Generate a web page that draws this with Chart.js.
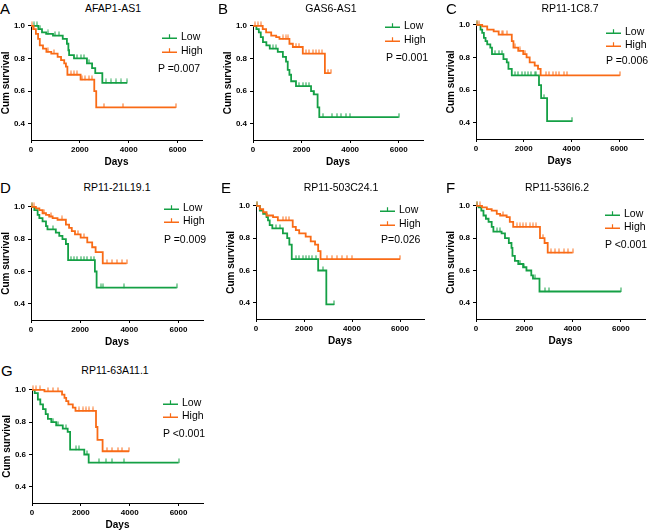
<!DOCTYPE html>
<html>
<head>
<meta charset="utf-8">
<script src="https://cdn.jsdelivr.net/npm/chart.js@4.4.1/dist/chart.umd.min.js"></script>
<style>
  body { margin: 0; background: #fff; font-family: Arial, "Liberation Sans", sans-serif; }
  #wrap { position: relative; width: 650px; height: 531px; overflow: hidden; }
  canvas { position: absolute; }
  .lbl { position: absolute; white-space: nowrap; color: #000; line-height: 1; }
  .letter { font-size: 15px; transform: translateY(-50%); }
  .title { font-size: 10.5px; transform: translate(-50%, -50%); }
  .leg { font-size: 10.5px; transform: translateY(-50%); display: flex; align-items: center; }
  .leg svg { margin-right: 4px; }
  .pv { font-size: 10.5px; transform: translateY(-50%); }
</style>
</head>
<body>
<div id="wrap"></div>
<script>
const letters = ["A", "B", "C", "D", "E", "F", "G"];
const titles = ["AFAP1-AS1", "GAS6-AS1", "RP11-1C8.7", "RP11-21L19.1", "RP11-503C24.1", "RP11-536I6.2", "RP11-63A11.1"];
const pTexts = ["P =0.007", "P =0.001", "P =0.006", "P =0.009", "P=0.026", "P <0.001", "P <0.001"];
const seriesNames = ["Low", "High"];
const xTicks = [0, 2000, 4000, 6000];
const yTicks = [0.4, 0.6, 0.8, 1.0];

// event times (days) / survival after the drop / censor times
const aLowT = [0, 300, 450, 620, 900, 1300, 1470, 1530, 1560, 1760, 2290, 2500, 2630, 2920];
const aLowS = [1.0, 0.98, 0.96, 0.95, 0.94, 0.92, 0.89, 0.85, 0.82, 0.80, 0.77, 0.74, 0.71, 0.65];
const aLowC = [120, 250, 380, 700, 1000, 1150, 1890, 2030, 2160, 2360, 3090, 3290, 3490, 3690, 3930];
const aHighT = [0, 90, 200, 290, 360, 490, 630, 830, 1090, 1230, 1360, 1430, 1490, 2030, 2590, 2670];
const aHighS = [1.0, 0.98, 0.95, 0.92, 0.88, 0.86, 0.84, 0.83, 0.81, 0.79, 0.77, 0.75, 0.70, 0.67, 0.60, 0.50];
const aHighC = [40, 130, 700, 950, 1630, 1760, 1890, 2090, 2230, 2360, 2490, 3000, 3760, 5930];

const bLowT = [0, 140, 240, 320, 410, 550, 690, 1020, 1230, 1360, 1430, 1500, 1570, 1770, 2390, 2500, 2660, 2730];
const bLowS = [1.0, 0.98, 0.96, 0.93, 0.90, 0.88, 0.86, 0.84, 0.81, 0.78, 0.73, 0.70, 0.66, 0.63, 0.60, 0.58, 0.50, 0.44];
const bLowC = [820, 955, 1910, 2050, 2180, 2320, 2520, 2900, 3270, 3450, 3640, 3820, 4000, 6000];
const bHighT = [0, 400, 540, 750, 955, 1090, 1500, 1640, 2050, 2960];
const bHighS = [1.0, 0.98, 0.96, 0.94, 0.93, 0.92, 0.89, 0.87, 0.83, 0.71];
const bHighC = [70, 200, 330, 1230, 1360, 1430, 1770, 1910, 2180, 2320, 2450, 2590, 2730, 2860, 3100, 3200];

const cLowT = [0, 190, 260, 330, 400, 470, 600, 670, 1150, 1290, 1360, 1500, 2640, 2730, 2980];
const cLowS = [1.0, 0.97, 0.95, 0.92, 0.90, 0.88, 0.86, 0.82, 0.79, 0.77, 0.73, 0.69, 0.63, 0.55, 0.41];
const cLowC = [60, 810, 950, 1090, 1630, 1770, 1910, 2050, 2180, 2320, 2460, 2530, 2870, 4040];
const cHighT = [0, 260, 470, 740, 950, 1500, 1570, 1770, 1980, 2120, 2250, 2460, 2600, 2710];
const cHighS = [1.0, 0.99, 0.97, 0.96, 0.94, 0.90, 0.86, 0.84, 0.82, 0.80, 0.77, 0.75, 0.73, 0.69];
const cHighC = [50, 130, 1090, 1150, 1290, 1630, 1850, 2050, 2940, 3080, 3210, 3350, 3490, 3700, 3830, 6030];

const dLowT = [0, 135, 270, 340, 470, 610, 670, 1010, 1150, 1280, 1420, 1510, 2600, 2670];
const dLowS = [1.0, 0.98, 0.95, 0.93, 0.91, 0.88, 0.86, 0.84, 0.82, 0.80, 0.77, 0.67, 0.60, 0.50];
const dLowC = [60, 880, 1620, 1750, 1890, 2020, 2160, 2290, 2430, 2560, 2830, 2940, 3770, 5930];
const dHighT = [0, 200, 340, 470, 610, 740, 880, 1080, 1420, 1550, 1660, 1790, 2020, 2290, 2490, 2630, 2920];
const dHighS = [1.0, 0.99, 0.98, 0.96, 0.95, 0.94, 0.93, 0.92, 0.89, 0.87, 0.85, 0.83, 0.81, 0.78, 0.75, 0.72, 0.65];
const dHighC = [40, 120, 540, 800, 1250, 1900, 2150, 3100, 3300, 3500, 3700, 3890];

const eLowT = [0, 160, 300, 440, 500, 570, 680, 1120, 1300, 1390, 1490, 2590, 2930];
const eLowS = [1.0, 0.97, 0.95, 0.93, 0.91, 0.88, 0.86, 0.83, 0.80, 0.76, 0.67, 0.60, 0.39];
const eLowC = [60, 850, 980, 1660, 1800, 1940, 2070, 2210, 2350, 2480, 2800, 3260];
const eHighT = [0, 160, 300, 440, 710, 910, 1530, 1660, 1800, 2070, 2280, 2460, 2590, 2690];
const eHighS = [1.0, 0.98, 0.96, 0.94, 0.93, 0.91, 0.87, 0.85, 0.83, 0.81, 0.78, 0.76, 0.72, 0.67];
const eHighC = [40, 1120, 1260, 1390, 2960, 3170, 3370, 3570, 3780, 3980, 6000];

const fLowT = [0, 110, 220, 310, 410, 520, 650, 720, 1060, 1200, 1360, 1470, 1510, 1610, 1750, 1950, 2090, 2290, 2360, 2630];
const fLowS = [1.0, 0.99, 0.97, 0.94, 0.92, 0.90, 0.87, 0.84, 0.83, 0.80, 0.77, 0.74, 0.69, 0.66, 0.64, 0.62, 0.60, 0.57, 0.55, 0.47];
const fLowC = [40, 860, 1000, 1810, 2000, 2430, 2840, 3040, 6000];
const fHighT = [0, 250, 450, 650, 860, 1000, 1270, 1400, 1540, 2650, 2840, 2970];
const fHighS = [1.0, 0.99, 0.98, 0.97, 0.95, 0.94, 0.93, 0.90, 0.87, 0.80, 0.77, 0.71];
const fHighC = [60, 150, 1100, 1680, 1810, 1950, 2090, 2220, 2360, 2500, 2760, 3110, 3270, 3450, 3630, 3790, 4000];

const gLowT = [0, 110, 240, 340, 450, 560, 650, 790, 990, 1260, 1460, 1560, 2140, 2320];
const gLowS = [1.0, 0.98, 0.94, 0.91, 0.88, 0.85, 0.82, 0.80, 0.78, 0.76, 0.74, 0.63, 0.60, 0.55];
const gLowC = [880, 1060, 1400, 1800, 1940, 2240, 2750, 3020, 3270, 3770, 6000];
const gHighT = [0, 510, 1230, 1330, 1400, 1490, 1670, 1780, 2620, 2680, 2890];
const gHighS = [1.0, 0.99, 0.97, 0.95, 0.93, 0.91, 0.89, 0.87, 0.77, 0.69, 0.62];
const gHighC = [40, 176, 310, 650, 850, 1060, 1940, 2080, 2210, 2340, 2480, 3090, 3290, 3500, 3700, 3970];

const lowSets = [[aLowT, aLowS, aLowC], [bLowT, bLowS, bLowC], [cLowT, cLowS, cLowC], [dLowT, dLowS, dLowC],
                 [eLowT, eLowS, eLowC], [fLowT, fLowS, fLowC], [gLowT, gLowS, gLowC]];
const highSets = [[aHighT, aHighS, aHighC], [bHighT, bHighS, bHighC], [cHighT, cHighS, cHighC], [dHighT, dHighS, dHighC],
                  [eHighT, eHighS, eHighC], [fHighT, fHighS, fHighC], [gHighT, gHighS, gHighC]];

const green = "#14a045";
const orange = "#f96b16";
const fontFam = "'Liberation Sans', Arial, sans-serif";

// plot area in page px: left, right (x=7000), top (y=1.0), bottom (y=0.3)
const plotBox = [
  [31, 204, 24, 140], [253, 425, 24, 140], [476, 645, 23, 139],
  [31, 205, 205, 320], [256, 426, 204, 319], [476, 647, 204, 319],
  [32, 205, 388, 503]
];
// letter x,y / title cx,cy / legend x, lowY, highY / p x,y
const textPos = [
  [0, 8, 113, 8, 162, 36, 50, 158, 68],
  [218, 8, 331, 8, 385, 25, 39, 386, 57],
  [446, 8, 570, 8, 606, 31, 44, 606, 60],
  [0, 187, 117, 187, 164, 207, 220, 164, 239],
  [221, 187, 341, 187, 380, 209, 223, 381, 239],
  [446, 187, 557, 187, 605, 213, 226, 605, 244],
  [1, 370, 115, 370, 163, 402, 415, 163, 433]
];

function stepPoints(t, s, c) {
  const pts = t.map((v, i) => ({ x: v, y: s[i] }));
  const end = Math.max(t[t.length - 1], c[c.length - 1]);
  pts.push({ x: end, y: s[s.length - 1] });
  return pts;
}

function censorPoints(t, s, c) {
  return c.map(v => {
    let k = 0;
    for (let i = 0; i < t.length; i++) if (t[i] <= v) k = i;
    return { x: v, y: s[k] };
  });
}

// upward censor tick, drawn centred on the point so the lower half is empty
function tickImage(color) {
  const c = document.createElement("canvas");
  c.width = 2; c.height = 9;
  const g = c.getContext("2d");
  g.fillStyle = color;
  g.fillRect(0.5, 0.5, 1, 4.5);
  return c;
}

function legendMark(color) {
  return '<svg width="15" height="8"><line x1="0" y1="6.5" x2="15" y2="6.5" stroke="' + color +
    '" stroke-width="1.6"/><line x1="7.5" y1="2.5" x2="7.5" y2="6.5" stroke="' + color + '" stroke-width="1.2"/></svg>';
}

const wrap = document.getElementById("wrap");
const axisW = 31, axisH = 28, padTop = 6, padRight = 3;
const greenTick = tickImage(green), orangeTick = tickImage(orange);

for (let p = 0; p < 7; p++) {
  const [L, R, T, B] = plotBox[p];
  const cv = document.createElement("canvas");
  const w = axisW + (R - L) + padRight;
  const h = padTop + (B - T) + axisH;
  cv.width = w; cv.height = h;
  cv.style.left = (L - axisW) + "px";
  cv.style.top = (T - padTop) + "px";
  cv.style.width = w + "px"; cv.style.height = h + "px";
  wrap.appendChild(cv);

  const lo = lowSets[p], hi = highSets[p];
  new Chart(cv, {
    type: "scatter",
    data: {
      datasets: [
        { data: stepPoints(hi[0], hi[1], hi[2]), showLine: true, stepped: true, borderColor: orange,
          borderWidth: 1.8, pointRadius: 0, clip: 4 },
        { data: censorPoints(hi[0], hi[1], hi[2]), showLine: false, pointStyle: orangeTick,
          pointRadius: 3, clip: 6 },
        { data: stepPoints(lo[0], lo[1], lo[2]), showLine: true, stepped: true, borderColor: green,
          borderWidth: 1.8, pointRadius: 0, clip: 4 },
        { data: censorPoints(lo[0], lo[1], lo[2]), showLine: false, pointStyle: greenTick,
          pointRadius: 3, clip: 6 }
      ]
    },
    options: {
      responsive: false,
      animation: false,
      layout: { padding: { top: padTop, right: padRight, left: 0, bottom: 0 } },
      plugins: { legend: { display: false }, tooltip: { enabled: false } },
      scales: {
        x: {
          type: "linear", min: 0, max: 7000,
          afterBuildTicks: s => { s.ticks = xTicks.map(v => ({ value: v })); },
          afterFit: s => { s.height = axisH; },
          grid: { display: true, drawOnChartArea: false, drawTicks: true, tickLength: 3, color: "#000" },
          border: { display: true, color: "#000", width: 1 },
          ticks: { color: "#000", padding: 2, maxRotation: 0, callback: v => String(v),
                   font: { family: fontFam, size: 8, weight: "bold" } },
          title: { display: true, text: "Days", color: "#000", padding: 0,
                   font: { family: fontFam, size: 10, weight: "bold" } }
        },
        y: {
          min: 0.3, max: 1.0,
          afterBuildTicks: s => { s.ticks = yTicks.map(v => ({ value: v })); },
          afterFit: s => { s.width = axisW; },
          grid: { display: true, drawOnChartArea: false, drawTicks: true, tickLength: 3, color: "#000" },
          border: { display: true, color: "#000", width: 1 },
          ticks: { color: "#000", padding: 3, callback: v => v.toFixed(1),
                   font: { family: fontFam, size: 8, weight: "bold" } },
          title: { display: true, text: "Cum survival", color: "#000", padding: 0,
                   font: { family: fontFam, size: 10, weight: "bold" } }
        }
      }
    }
  });

  const tp = textPos[p];
  const add = (cls, x, y, html) => {
    const d = document.createElement("div");
    d.className = "lbl " + cls;
    d.style.left = x + "px"; d.style.top = y + "px";
    d.innerHTML = html;
    wrap.appendChild(d);
  };
  add("letter", tp[0], tp[1], letters[p]);
  add("title", tp[2], tp[3], titles[p]);
  add("leg", tp[4], tp[5], legendMark(green) + seriesNames[0]);
  add("leg", tp[4], tp[6], legendMark(orange) + seriesNames[1]);
  add("pv", tp[7], tp[8], pTexts[p]);
}
</script>
</body>
</html>
